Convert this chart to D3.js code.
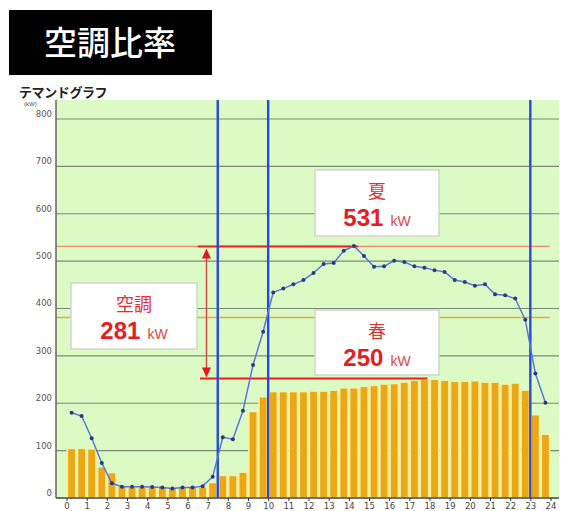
<!DOCTYPE html>
<html><head><meta charset="utf-8">
<script src="https://cdn.jsdelivr.net/npm/d3@7"></script>
<style>
html,body{margin:0;padding:0;background:#fff;}
svg{display:block;}
</style></head>
<body>
<svg id="chart" width="567" height="511"></svg>
<script>
// ---- data ----
const hourTicks = d3.range(0, 25);
const yTicks = [0, 100, 200, 300, 400, 500, 600, 700, 800];
const slotHours = d3.range(48).map(i => i * 0.5 + 0.25);
const springBars = [103,103,102,64,52,24,22,22,22,22,21,21,22,22,31,46,46,53,181,212,223,223,223,223,224,224,226,231,231,234,236,239,240,243,247,249,249,247,245,245,246,243,243,239,241,226,174,133];
const summerLine = [180,173,126,74,31,24,24,24,23,22,20,22,22,25,45,128,124,184,281,351,434,442,451,460,475,494,496,522,532,511,488,489,501,498,489,486,481,477,460,456,448,451,430,428,421,376,263,201];
const blueLines = [7.5, 10, 23];
const summerPeak = 531, springPeak = 252, aircon = 281, orangeRef = 381;
const labels = {title: "空調比率", chart: "テマンドグラフ", unit: "(kW)", summer: "夏", spring: "春", ac: "空調", kw: "kW"};

const svg = d3.select("#chart");
const x = d3.scaleLinear().domain([0, 24]).range([66.5, 550.5]);
const y = d3.scaleLinear().domain([0, 800]).range([498, 119]);
const plotL = 56, plotR = 559, plotT = 100, plotB = 498;

// title
svg.append("rect").attr("x", 9).attr("y", 10).attr("width", 203).attr("height", 65).attr("fill", "#000");
svg.append("text").attr("x", 110).attr("y", 55).attr("text-anchor", "middle")
  .attr("font-family", "'Noto Sans CJK JP'").attr("font-size", 33).attr("font-weight", 500)
  .attr("fill", "#fff").text(labels.title);
svg.append("text").attr("x", 19).attr("y", 97).attr("font-family", "'Noto Sans CJK JP'")
  .attr("font-size", 13).attr("font-weight", 700).attr("fill", "#222").attr("letter-spacing", -0.4).text(labels.chart);
svg.append("text").attr("x", 24).attr("y", 106).attr("font-family", "'Liberation Sans'")
  .attr("font-size", 6).attr("fill", "#444").text(labels.unit);

// plot bg
svg.append("rect").attr("x", plotL).attr("y", plotT).attr("width", plotR - plotL).attr("height", plotB - plotT).attr("fill", "#dcfbc4");

// grid
svg.append("g").selectAll("line").data(yTicks).join("line")
  .attr("x1", plotL).attr("x2", plotR).attr("y1", d => y(d)).attr("y2", d => y(d))
  .attr("stroke", "#7a8a78").attr("stroke-width", 1.2);

// bars: pale slot background + orange bar
const slotW = x(0.5) - x(0);
const barsG = svg.append("g");
barsG.selectAll("rect.bg").data(springBars).join("rect").attr("class", "bg")
  .attr("x", (d, i) => x(slotHours[i]) - slotW / 2).attr("width", slotW)
  .attr("y", d => y(d) - 0.5).attr("height", d => y(0) - y(d) + 0.5)
  .attr("fill", "#f7efa0");
barsG.selectAll("rect.bar").data(springBars).join("rect").attr("class", "bar")
  .attr("x", (d, i) => x(slotHours[i]) - 3.4).attr("width", 6.8)
  .attr("y", d => y(d)).attr("height", d => y(0) - y(d))
  .attr("fill", "#eaa816");

// reference lines (thin)
svg.append("line").attr("x1", plotL).attr("x2", x(23.97)).attr("y1", y(summerPeak)).attr("y2", y(summerPeak))
  .attr("stroke", "#f08a6c").attr("stroke-width", 1.3);
svg.append("line").attr("x1", plotL).attr("x2", x(23.97)).attr("y1", y(orangeRef)).attr("y2", y(orangeRef))
  .attr("stroke", "#f0a050").attr("stroke-width", 1.3);
// thick red segments
svg.append("line").attr("x1", x(6.52)).attr("x2", x(14.45)).attr("y1", y(summerPeak)).attr("y2", y(summerPeak))
  .attr("stroke", "#e82020").attr("stroke-width", 2);
svg.append("line").attr("x1", x(6.62)).attr("x2", x(17.9)).attr("y1", y(springPeak)).attr("y2", y(springPeak))
  .attr("stroke", "#e82020").attr("stroke-width", 2);

// arrow
const ax = x(6.94);
svg.append("line").attr("x1", ax).attr("x2", ax).attr("y1", y(summerPeak) + 8).attr("y2", y(springPeak) - 8)
  .attr("stroke", "#d84040").attr("stroke-width", 1.3);
svg.append("path").attr("d", `M${ax},${y(summerPeak) + 2} L${ax - 4.5},${y(summerPeak) + 12} L${ax + 4.5},${y(summerPeak) + 12} Z`).attr("fill", "#e81818");
svg.append("path").attr("d", `M${ax},${y(springPeak) - 1} L${ax - 4.5},${y(springPeak) - 11} L${ax + 4.5},${y(springPeak) - 11} Z`).attr("fill", "#e81818");

// blue vertical lines
svg.append("g").selectAll("line").data(blueLines).join("line")
  .attr("x1", d => x(d)).attr("x2", d => x(d)).attr("y1", plotT).attr("y2", plotB)
  .attr("stroke", "#2848e0").attr("stroke-width", 2.4);

// summer line
const line = d3.line().x((d, i) => x(slotHours[i])).y(d => y(d));
svg.append("path").datum(summerLine).attr("d", line).attr("fill", "none")
  .attr("stroke", "#5a76d8").attr("stroke-width", 1.5);
svg.append("g").selectAll("circle").data(summerLine).join("circle")
  .attr("cx", (d, i) => x(slotHours[i])).attr("cy", d => y(d)).attr("r", 2)
  .attr("fill", "#2a3a80");

// axes
svg.append("line").attr("x1", plotL).attr("x2", plotL).attr("y1", plotT).attr("y2", plotB).attr("stroke", "#666").attr("stroke-width", 1.5);
svg.append("line").attr("x1", plotL).attr("x2", plotR).attr("y1", plotB).attr("y2", plotB).attr("stroke", "#555").attr("stroke-width", 1.5);
const xAxis = d3.axisBottom(x).tickValues(hourTicks).tickSize(3).tickPadding(2).tickFormat(d3.format("d"));
const gx = svg.append("g").attr("transform", `translate(0,${plotB})`).call(xAxis);
gx.select(".domain").remove();
gx.selectAll("line").attr("stroke", "#333");
gx.selectAll("text").attr("font-family", "'DejaVu Sans'").attr("font-size", 8.5).attr("fill", "#444");
const yAxis = d3.axisLeft(y).tickValues(yTicks).tickSize(0).tickPadding(4);
const gy = svg.append("g").attr("transform", `translate(${plotL},0)`).call(yAxis);
gy.select(".domain").remove();
gy.selectAll("text").attr("font-family", "'DejaVu Sans'").attr("font-size", 8.5).attr("fill", "#555").attr("dy", "-0.3em");

// annotation boxes
function box(bx, by, bw2, bh, head, num) {
  const g = svg.append("g");
  g.append("rect").attr("x", bx).attr("y", by).attr("width", bw2).attr("height", bh)
    .attr("fill", "#fff").attr("stroke", "#cfd6cc").attr("stroke-width", 1.5);
  const cx = bx + bw2 / 2;
  g.append("text").attr("x", cx).attr("y", by + 28).attr("text-anchor", "middle")
    .attr("font-family", "'Noto Sans CJK JP'").attr("font-size", 18).attr("fill", "#e83030").text(head);
  const t = g.append("text").attr("x", cx).attr("y", by + 56).attr("text-anchor", "middle").attr("fill", "#e81c1c");
  t.append("tspan").attr("font-family", "'Liberation Sans'").attr("font-weight", 700).attr("font-size", 24).text(num);
  t.append("tspan").attr("font-family", "'Liberation Sans'").attr("font-size", 14).attr("fill", "#e04848").attr("dx", 7).text(labels.kw);
}
box(315, 170, 124, 66, labels.summer, String(summerPeak));
box(315, 310, 124, 65, labels.spring, "250");
box(71, 283, 126, 66, labels.ac, String(aircon));
</script>
</body></html>
